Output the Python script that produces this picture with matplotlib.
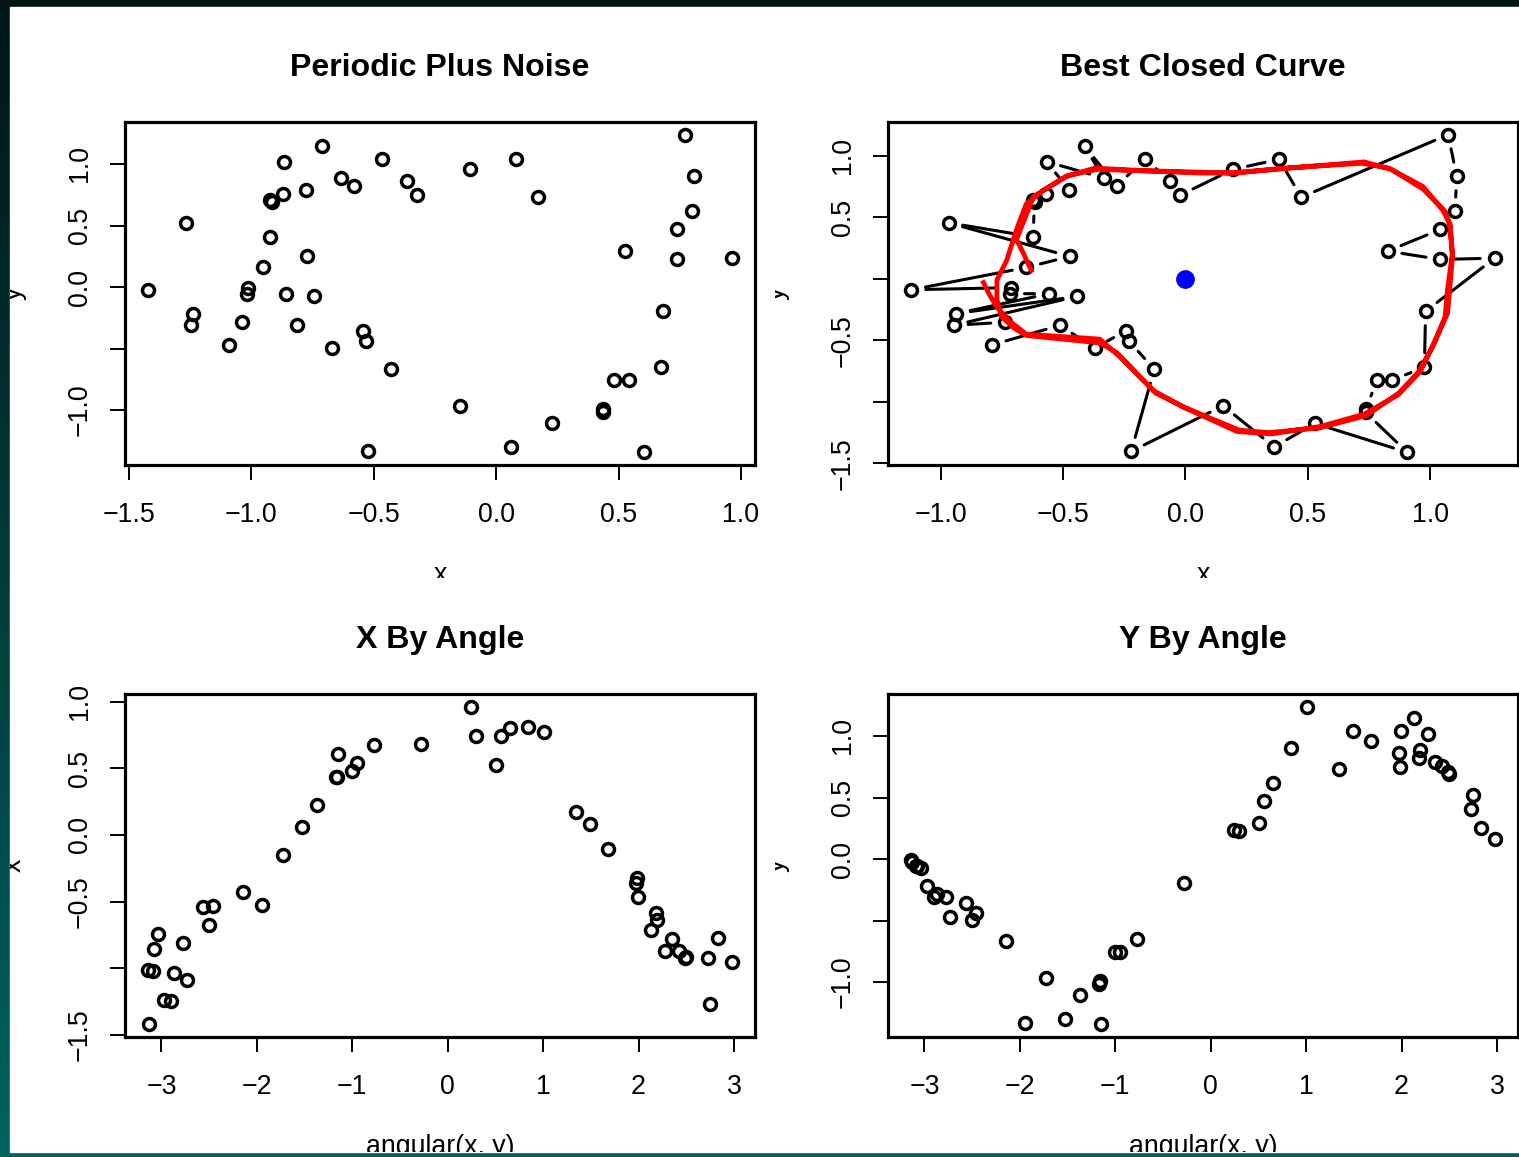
import matplotlib.pyplot as plt
import numpy as np
from matplotlib.colors import LinearSegmentedColormap
from matplotlib.patches import Rectangle
from matplotlib.transforms import Bbox, TransformedBbox

plt.rcParams['font.family'] = ['Liberation Sans', 'DejaVu Sans']

# noisy periodic points
x = np.array([0.772, -0.712, -0.868, -0.465, 0.082, -0.105, 0.807, -0.635, -0.582, -0.363,
              -0.323, -0.777, -0.870, -0.917, -0.922, 0.172, -1.268, 0.800, 0.740, -0.923,
              0.525, -0.773, 0.740, 0.962, -0.950, -1.420, -1.013, -1.017, -0.858, -0.743,
              -1.237, -1.247, -1.037, -0.813, 0.680, -1.090, -0.672, -0.542, -0.533, -0.428,
              0.675, 0.483, 0.543, -0.147, 0.435, 0.435, 0.227, -0.522, 0.062, 0.605])
y = np.array([1.238, 1.143, 1.019, 1.038, 1.038, 0.957, 0.900, 0.886, 0.824, 0.865,
              0.746, 0.792, 0.757, 0.695, 0.710, 0.730, 0.522, 0.614, 0.468, 0.408,
              0.292, 0.249, 0.224, 0.235, 0.159, -0.022, -0.005, -0.054, -0.054, -0.076,
              -0.216, -0.311, -0.286, -0.311, -0.197, -0.470, -0.497, -0.354, -0.435, -0.668,
              -0.651, -0.754, -0.757, -0.965, -0.995, -1.019, -1.108, -1.335, -1.300, -1.343])

# fitted closed curve, centred coordinates (goes round about twice)
curve_x = [-0.825, -0.80, -0.77, -0.72, -0.65, -0.35, -0.27, -0.12, -0.01, 0.22, 0.34, 0.55,
           0.74, 0.87, 0.95, 1.01, 1.06, 1.07, 1.09, 1.08, 1.05, 0.97, 0.83, 0.72, 0.41, 0.19,
           0.06, -0.19, -0.37, -0.49, -0.58, -0.65, -0.69, -0.73, -0.77, -0.77, -0.75, -0.70,
           -0.65, -0.35, -0.28, -0.13, 0.00, 0.21, 0.35, 0.55, 0.73, 0.87, 0.96, 1.02, 1.07,
           1.08, 1.09, 1.08, 1.06, 0.97, 0.84, 0.73, 0.42, 0.20, 0.00, -0.20, -0.36, -0.48,
           -0.57, -0.62, -0.69, -0.66, -0.63]
curve_y = [-0.03, -0.13, -0.23, -0.34, -0.45, -0.49, -0.63, -0.93, -1.04, -1.23, -1.25, -1.21,
           -1.11, -0.93, -0.76, -0.55, -0.31, -0.09, 0.21, 0.45, 0.56, 0.75, 0.90, 0.94, 0.90,
           0.86, 0.86, 0.88, 0.90, 0.83, 0.72, 0.61, 0.40, 0.15, -0.01, -0.17, -0.31, -0.40,
           -0.46, -0.52, -0.60, -0.91, -1.05, -1.24, -1.26, -1.20, -1.10, -0.94, -0.75, -0.50,
           -0.28, -0.06, 0.18, 0.43, 0.55, 0.73, 0.89, 0.95, 0.90, 0.86, 0.87, 0.88, 0.89,
           0.84, 0.73, 0.67, 0.32, 0.20, 0.07]

titles = ['Periodic Plus Noise', 'Best Closed Curve', 'X By Angle', 'Y By Angle']

ang = np.arctan2(y, x)
xc = x - x.mean()
yc = y - y.mean()
order = np.argsort(np.arctan2(yc, xc))
order = np.append(order, order[0])

W, H = 1519, 1157
fig = plt.figure(figsize=(W / 100, H / 100), dpi=100)

bg = fig.add_axes([0, 0, 1, 1])
bg.set_xlim(0, W)
bg.set_ylim(H, 0)
bg.axis('off')
cm = LinearSegmentedColormap.from_list('bg', ['#011515', '#00635f'])
bg.imshow(np.linspace(0, 1, 256).reshape(-1, 1), extent=(0, W, H, 0), aspect='auto', cmap=cm)
bg.add_patch(Rectangle((10, 7), W - 10, 1145, color='white'))

FS = 19.3
PW, PH = 630, 343


def rlim(v):
    d = 0.04 * (v.max() - v.min())
    return v.min() - d, v.max() + d


def clip_text(t, x0, y0, x1, y1):
    t.set_clip_box(TransformedBbox(Bbox.from_extents(x0 / W, 1 - y1 / H, x1 / W, 1 - y0 / H),
                                   fig.transFigure))
    t.set_clip_on(True)


def panel(left, top, title, xlab, ylab, col, row):
    ax = fig.add_axes([left / W, 1 - (top + PH) / H, PW / W, PH / H])
    for s in ax.spines.values():
        s.set_linewidth(2.3)
    ax.tick_params(direction='out', length=11, width=1.4, labelsize=FS, pad=16)
    ax.tick_params(axis='y', pad=12)
    cx0, cx1 = [(10, 775), (775, W)][col]
    ry0, ry1 = [(7, 578), (578, 1152)][row]
    fig.text((left + PW / 2) / W, 1 - (top - 46) / H, title, ha='center', va='baseline',
             fontsize=FS * 1.2, fontweight='bold')
    t = fig.text((left + PW / 2) / W, 1 - (top + PH + 117) / H, xlab, ha='center',
                 va='baseline', fontsize=FS)
    clip_text(t, cx0, ry0, cx1, ry1)
    t = fig.text((left - 104) / W, 1 - (top + PH / 2) / H, ylab, ha='center', va='baseline',
                 rotation=90, rotation_mode='anchor', fontsize=FS)
    clip_text(t, cx0, ry0, cx1, ry1)
    return ax


def set_ticks(ax, xt, xl, yt, yl):
    ax.set_xticks(xt)
    ax.set_xticklabels(xl)
    ax.set_yticks(yt)
    ax.set_yticklabels(yl, rotation=90, va='center')


pt = dict(marker='o', ls='none', mfc='none', mec='black', ms=8.6, mew=2.5)

# Periodic Plus Noise
ax1 = panel(125, 122, titles[0], 'x', 'y', 0, 0)
ax1.plot(x, y, **pt)
ax1.set_xlim(rlim(x))
ax1.set_ylim(rlim(y))
set_ticks(ax1, [-1.5, -1.0, -0.5, 0.0, 0.5, 1.0], ['\u22121.5', '\u22121.0', '\u22120.5', '0.0', '0.5', '1.0'],
          [-1.0, -0.5, 0.0, 0.5, 1.0], ['\u22121.0', '', '0.0', '0.5', '1.0'])

# Best Closed Curve
ax2 = panel(888, 122, titles[1], 'x', 'y', 1, 0)
ax2.plot(xc, yc, **pt)
ax2.set_xlim(rlim(xc))
ax2.set_ylim(rlim(yc))
set_ticks(ax2, [-1.0, -0.5, 0.0, 0.5, 1.0], ['\u22121.0', '\u22120.5', '0.0', '0.5', '1.0'],
          [-1.5, -1.0, -0.5, 0.0, 0.5, 1.0], ['\u22121.5', '', '\u22120.5', '', '0.5', '1.0'])
gap = 10.4
disp = ax2.transData.transform(np.column_stack([xc[order], yc[order]]))
for i in range(len(order) - 1):
    if np.hypot(*(disp[i + 1] - disp[i])) > 2 * gap * 100 / 72:
        ax2.annotate('', xy=(xc[order[i + 1]], yc[order[i + 1]]), xytext=(xc[order[i]], yc[order[i]]),
                     arrowprops=dict(arrowstyle='-', shrinkA=gap, shrinkB=gap, lw=2.2, color='black'))
ax2.plot(curve_x, curve_y, color='red', lw=3.5, zorder=4)
ax2.plot(xc.mean(), yc.mean(), 'o', color='blue', ms=13.5, mew=0, zorder=5)

# X By Angle
ax3 = panel(125, 694, titles[2], 'angular(x, y)', 'x', 0, 1)
ax3.plot(ang, x, **pt)
ax3.set_xlim(rlim(ang))
ax3.set_ylim(rlim(x))
set_ticks(ax3, [-3, -2, -1, 0, 1, 2, 3], ['\u22123', '\u22122', '\u22121', '0', '1', '2', '3'],
          [-1.5, -1.0, -0.5, 0.0, 0.5, 1.0], ['\u22121.5', '', '\u22120.5', '0.0', '0.5', '1.0'])

# Y By Angle
ax4 = panel(888, 694, titles[3], 'angular(x, y)', 'y', 1, 1)
ax4.plot(ang, y, **pt)
ax4.set_xlim(rlim(ang))
ax4.set_ylim(rlim(y))
set_ticks(ax4, [-3, -2, -1, 0, 1, 2, 3], ['\u22123', '\u22122', '\u22121', '0', '1', '2', '3'],
          [-1.0, -0.5, 0.0, 0.5, 1.0], ['\u22121.0', '', '0.0', '0.5', '1.0'])

fig.savefig('out.png', dpi=100)
